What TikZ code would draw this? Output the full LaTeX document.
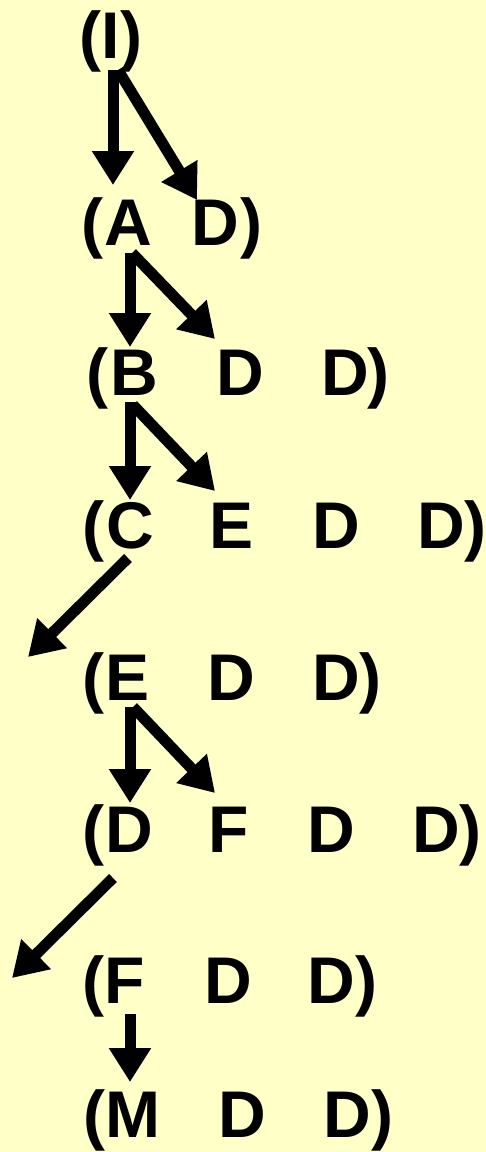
\documentclass[tikz,border=0pt]{standalone}
\usepackage{fontspec}
\setmainfont{Liberation Sans}
\usetikzlibrary{arrows.meta}

\definecolor{paper}{RGB}{255,255,200}

\tikzset{
  sym/.style={font=\bfseries\fontsize{66}{66}\selectfont, inner sep=0pt, anchor=base},
  arr/.style={line width=11pt, -{Triangle[length=34pt,width=40pt]}},
}

\begin{document}
\begin{tikzpicture}[x=1pt,y=-1pt]
  \fill[paper] (0,0) rectangle (486,1152);

  % row 1
  \node[sym] (o1) at (90,58) {(};
  \node[sym] (r1i) at (111,58) {I};
  \node[sym] (c1) at (131,58) {)};
  % row 2
  \node[sym] (o2) at (92,245) {(};
  \node[sym] (r2a) at (128,245) {A};
  \node[sym] (r2d) at (215,245) {D};
  \node[sym] (c2) at (251,245) {)};
  % row 3
  \node[sym] (o3) at (97,395) {(};
  \node[sym] (r3b) at (134,395) {B};
  \node[sym] (r3d) at (240,395) {D};
  \node[sym] (r3e) at (345,395) {D};
  \node[sym] (c3) at (378,395) {)};
  % row 4
  \node[sym] (o4) at (93,548) {(};
  \node[sym] (r4c) at (130,548) {C};
  \node[sym] (r4e) at (232,548) {E};
  \node[sym] (r4d) at (336,548) {D};
  \node[sym] (r4f) at (441,548) {D};
  \node[sym] (c4) at (475,548) {)};
  % row 5
  \node[sym] (o5) at (93,700) {(};
  \node[sym] (r5e) at (128,700) {E};
  \node[sym] (r5d) at (231,700) {D};
  \node[sym] (r5f) at (336,700) {D};
  \node[sym] (c5) at (370,700) {)};
  % row 6
  \node[sym] (o6) at (93,852) {(};
  \node[sym] (r6d) at (129,852) {D};
  \node[sym] (r6f) at (229,852) {F};
  \node[sym] (r6g) at (331,852) {D};
  \node[sym] (r6h) at (436,852) {D};
  \node[sym] (c6) at (470,852) {)};
  % row 7
  \node[sym] (o7) at (93,1003) {(};
  \node[sym] (r7f) at (125,1003) {F};
  \node[sym] (r7d) at (228,1003) {D};
  \node[sym] (r7e) at (331,1003) {D};
  \node[sym] (c7) at (366,1003) {)};
  % row 8
  \node[sym] (o8) at (94,1137) {(};
  \node[sym] (r8m) at (133,1137) {M};
  \node[sym] (r8d) at (242,1137) {D};
  \node[sym] (r8e) at (347,1137) {D};
  \node[sym] (c8) at (382,1137) {)};

  % loose ends on the left
  \coordinate (out4) at (28,657);
  \coordinate (out6) at (12,978);

  % expansions
  \draw[arr] ([xshift=2pt,yshift=-12pt]r1i.base) -- ([xshift=-15pt,yshift=60pt]r2a.base);
  \draw[arr] ([xshift=7pt,yshift=-12pt]r1i.base) -- ([xshift=-18pt,yshift=45pt]r2d.base);

  \draw[arr] ([xshift=2pt,yshift=-8pt]r2a.base) -- ([xshift=-4pt,yshift=48pt]r3b.base);
  \draw[arr] ([xshift=4pt,yshift=-8pt]r2a.base) -- ([xshift=-25pt,yshift=56pt]r3d.base);

  \draw[arr] ([xshift=-4pt,yshift=-7pt]r3b.base) -- ([yshift=48pt]r4c.base);
  \draw[arr] ([xshift=-1pt,yshift=-10pt]r3b.base) -- ([xshift=-17pt,yshift=57pt]r4e.base);

  \draw[arr] ([xshift=-2pt,yshift=-10pt]r4c.base) -- (out4);

  \draw[arr] ([xshift=2pt,yshift=-7pt]r5e.base) -- ([xshift=1pt,yshift=49pt]r6d.base);
  \draw[arr] ([xshift=5pt,yshift=-7pt]r5e.base) -- ([xshift=-14pt,yshift=59pt]r6f.base);

  \draw[arr] ([xshift=-16pt,yshift=-26pt]r6d.base) -- (out6);

  \draw[arr] ([xshift=5pt,yshift=-11pt]r7f.base) -- ([xshift=-3pt,yshift=55pt]r8m.base);
\end{tikzpicture}
\end{document}
